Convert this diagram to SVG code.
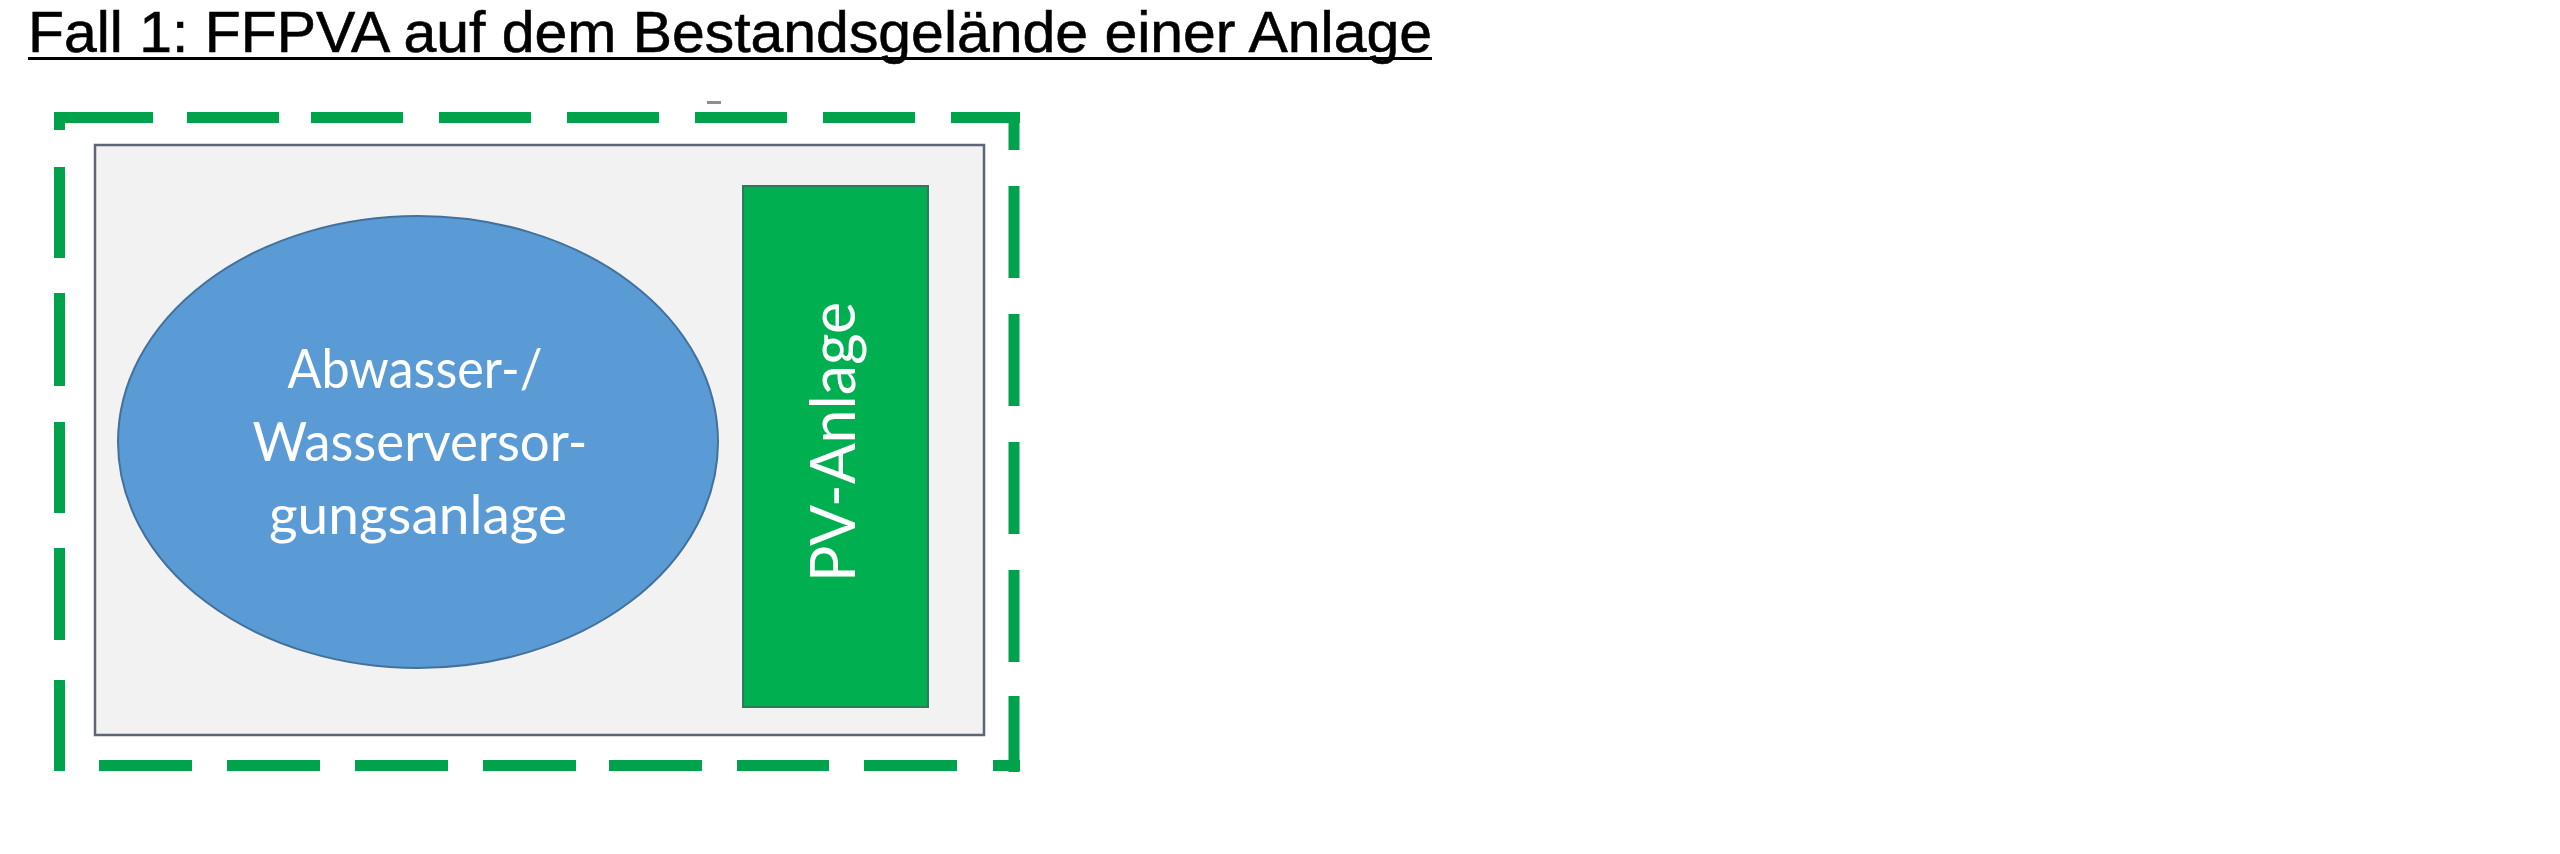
<svg xmlns="http://www.w3.org/2000/svg" width="2560" height="854" viewBox="0 0 2560 854">
  <style>
    .title { font-family: "Liberation Sans", Arial, sans-serif; font-size: 58px; fill: #000; stroke: #000; stroke-width: 0.6; }
    .lbl { font-family: Lato, "Open Sans", "Liberation Sans", sans-serif; fill: #ffffff; }
    .dash { fill: none; stroke: #00a24c; stroke-width: 11; stroke-linecap: butt; }
  </style>
  <rect x="0" y="0" width="2560" height="854" fill="#ffffff"/>

  <g id="title">
    <text class="title" x="28" y="52" textLength="1404" lengthAdjust="spacingAndGlyphs">Fall 1: FFPVA auf dem Bestandsgelände einer Anlage</text>
    <rect x="28" y="57" width="1404" height="3" fill="#000"/>
  </g>

  <g id="boundary">
    <path class="dash" d="M55 117.5H153 M187 117.5H279 M311 117.5H403 M439 117.5H531 M567 117.5H659 M695 117.5H787 M823 117.5H915 M951 117.5H1020
      M1014 112V150 M1014 186V278 M1014 314V406 M1014 442V534 M1014 570V662 M1014 696V772
      M99 765.5H192 M227 765.5H320 M355 765.5H448 M483 765.5H576 M609 765.5H702 M737 765.5H829 M864 765.5H957 M993 765.5H1020
      M59.5 112V130 M59.5 167V258 M59.5 293V386 M59.5 422V513 M59.5 548V640 M59.5 680V771"/>
    <rect x="707" y="101" width="14" height="3" fill="#8a8f96"/>
  </g>

  <g id="site">
    <rect x="95" y="145" width="889" height="590" fill="#f2f2f2" stroke="#5c6676" stroke-width="2.5"/>
  </g>

  <g id="water-plant">
    <ellipse cx="418" cy="442" rx="300" ry="226" fill="#5b9bd5" stroke="#41719c" stroke-width="2"/>
    <text class="lbl" font-size="55" text-anchor="middle" x="415" y="388" textLength="255" lengthAdjust="spacingAndGlyphs">Abwasser-/</text>
    <text class="lbl" font-size="55" text-anchor="middle" x="420" y="461" textLength="335" lengthAdjust="spacingAndGlyphs">Wasserversor-</text>
    <text class="lbl" font-size="55" text-anchor="middle" x="418" y="534" textLength="298" lengthAdjust="spacingAndGlyphs">gungsanlage</text>
  </g>

  <g id="pv-plant">
    <rect x="743" y="186" width="185" height="521" fill="#00b050" stroke="#2f7a5e" stroke-width="2"/>
    <text class="lbl" font-size="62" text-anchor="middle" transform="translate(855,442) rotate(-90)" x="0" y="0" textLength="280" lengthAdjust="spacingAndGlyphs">PV-Anlage</text>
  </g>

  <g id="connectors"></g>
</svg>
